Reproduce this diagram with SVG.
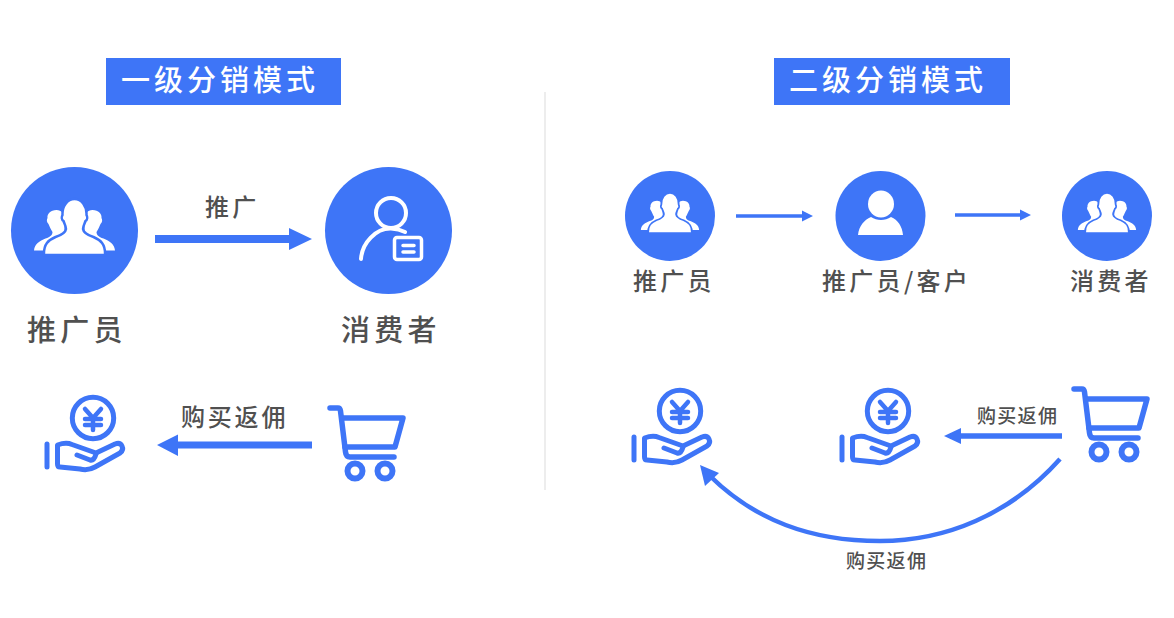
<svg xmlns="http://www.w3.org/2000/svg" width="1174" height="618" viewBox="0 0 1174 618">
<style>
text{font-family:"Noto Sans CJK SC","Noto Sans",sans-serif;fill:#505050}
.tt{fill:#fff;font-size:29px;letter-spacing:4px;font-weight:500}
.bl{font-size:29px;letter-spacing:4.300px;font-weight:500}
.ml{font-size:24px;letter-spacing:3.300px;font-weight:500}
.sl{font-size:19px;letter-spacing:1.300px;font-weight:500}
.b{fill:#3e75f7}
.ln{fill:none;stroke:#3e75f7;stroke-linecap:round;stroke-linejoin:round}
</style>
<defs>
<g id="people">
<path fill="#fff" d="M-40.500 21.500C-40 15-35 12-29 9.500C-24 8-22 6-22 3C-24 0-25-3-26-5C-28-7-28-9-27-11C-27.500-15-24-19-18-19C-13-19-10-15-10-10L-10 14L-25 21.500Z"/>
<path fill="#fff" d="M40.500 21.500C40 15 35 12 29 9.500C24 8 22 6 22 3C24 0 25-3 26-5C28-7 28-9 27-11C27.500-15 24-19 18-19C13-19 10-15 10-10L10 14L25 21.500Z"/>
<path fill="#fff" stroke="#3e75f7" stroke-width="2.500" d="M-30.500 26C-31 15-26 11-19 8C-13 6-9 4-8.500 0C-8.500-3-10-5-11-8C-13-9-13-12-12-14C-12.500-23-7-30-0-30C7-30 12.500-23 12-14C13-12 13-9 11-8C10-5 8.500-3 8.500 0C9 4 13 6 19 8C26 11 31 15 30.500 26Z"/>
</g>
<g id="hand">
<circle class="ln" cx="93" cy="418" r="20.700" stroke-width="5"/>
<path class="ln" stroke-width="4.500" d="M85 409L93 418L101 409M93 418V430M85 419H101M85 425H101"/>
<path class="ln" stroke-width="5" d="M47 444V467"/>
<path class="ln" stroke-width="5" d="M57.500 445Q66 442 72 444.500L96 453L115 444Q120 442 122 446Q124 450 120 453L95 467Q88 471 80 469L60 467Q57.500 467 57.500 464Z"/>
<path class="ln" stroke-width="5" d="M77 455L90 460Q94 461 96 454"/>
</g>
<g id="cart">
<path class="ln" stroke-width="5.500" d="M330 408H338Q340 408 340.500 411L345.500 452Q346 457 350 457H394"/>
<path class="ln" stroke-width="5.500" d="M342 418H403L395 447H345"/>
<circle class="ln" cx="355" cy="471" r="7.500" stroke-width="6"/>
<circle class="ln" cx="385" cy="471" r="7.500" stroke-width="6"/>
</g>
</defs>
<rect width="1174" height="618" fill="#fff"/>
<rect x="544.500" y="92" width="1" height="398" fill="#dcdcdc"/>

<g id="title-1"><rect class="b" x="106" y="58" width="235" height="47"/><text class="tt" x="121" y="91">一级分销模式</text></g>
<g id="title-2"><rect class="b" x="774" y="58" width="236" height="47"/><text class="tt" x="789" y="91">二级分销模式</text></g>

<g id="connectors">
<path class="b" d="M155 235H289V228L312 239L289 250V243H155Z"/>
<path class="b" d="M312 441.500H178V434.500L157 445L178 456V448.500H312Z"/>
<path class="b" d="M736 214.200H802V210.500L813 216L802 221.500V217.800H736Z"/>
<path class="b" d="M955 213.200H1020V209.500L1031 215L1020 220.500V216.800H955Z"/>
<path class="b" d="M1062 433.300H961V428L944 436L961 444V438.700H1062Z"/>
<path class="ln" stroke-width="4.500" style="stroke-linecap:butt" d="M1060 459C1010 515 945 541 880 541C810 541 755 520 710 476"/>
<path class="b" d="M700 465L719 473L705 486Z"/>
</g>

<g id="edge-labels">
<text class="ml" x="205" y="216">推广</text>
<text class="ml" style="letter-spacing:2.800px" x="181" y="426">购买返佣</text>
<text class="sl" x="977" y="423">购买返佣</text>
<text class="sl" x="846" y="568">购买返佣</text>
</g>

<g id="node-promoter-1">
<circle class="b" cx="74.500" cy="230.500" r="63.500"/>
<use href="#people" x="74.500" y="229"/>
<text class="bl" x="27" y="341">推广员</text>
</g>
<g id="node-consumer-1">
<circle class="b" cx="388.500" cy="230.500" r="63.500"/>
<circle cx="391" cy="213" r="15" fill="none" stroke="#fff" stroke-width="4"/>
<path d="M361 259C362 243 376 228 391 228.500Q399 229 405 232" fill="none" stroke="#fff" stroke-width="4" stroke-linecap="round"/>
<rect x="394.500" y="237.500" width="27" height="22" rx="2.500" fill="#3e75f7" stroke="#fff" stroke-width="3.500"/>
<path d="M403 245.500H414M403 252H414" stroke="#fff" stroke-width="3.500" stroke-linecap="round"/>
<text class="bl" x="341" y="341">消费者</text>
</g>
<g id="reward-1"><use href="#hand"/></g>
<g id="cart-1"><use href="#cart"/></g>

<g id="node-promoter-2">
<circle class="b" cx="670" cy="216" r="45"/>
<use href="#people" transform="translate(670 214.500) scale(.72)"/>
<text class="ml" x="633" y="290">推广员</text>
</g>
<g id="node-customer">
<circle class="b" cx="880.500" cy="216" r="45"/>
<ellipse cx="881" cy="204" rx="13" ry="13.500" fill="#fff"/>
<path fill="#fff" d="M858 235C859 226 864 220 871 217C877 221 885 221 891 217C898 220 902 226 903 235Z"/>
<text class="ml" x="822" y="290">推广员/客户</text>
</g>
<g id="node-consumer-2">
<circle class="b" cx="1107" cy="216" r="45"/>
<use href="#people" transform="translate(1107 214.500) scale(.72)"/>
<text class="ml" x="1070" y="290">消费者</text>
</g>
<g id="reward-2"><use href="#hand" x="587" y="-7"/></g>
<g id="reward-3"><use href="#hand" x="795" y="-7"/></g>
<g id="cart-2"><use href="#cart" x="744" y="-19"/></g>
</svg>
